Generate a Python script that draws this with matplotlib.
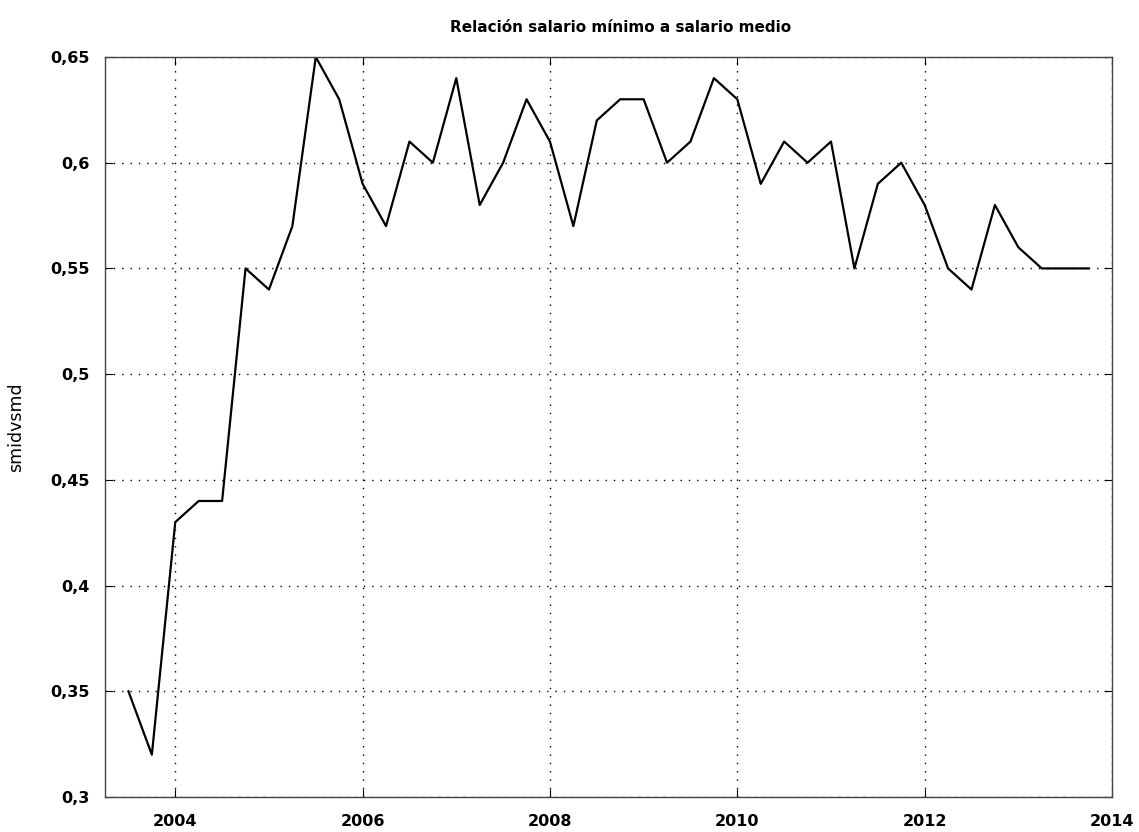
import numpy as np
import matplotlib.pyplot as plt

# trimestres 2003:3 - 2013:4
periodos = np.arange(2003.5, 2014.0, 0.25)
smidvsmd = [0.35, 0.32, 0.43, 0.44, 0.44, 0.55, 0.54, 0.57,
            0.65, 0.63, 0.59, 0.57, 0.61, 0.60, 0.64, 0.58,
            0.60, 0.63, 0.61, 0.57, 0.62, 0.63, 0.63, 0.60,
            0.61, 0.64, 0.63, 0.59, 0.61, 0.60, 0.61, 0.55,
            0.59, 0.60, 0.58, 0.55, 0.54, 0.58, 0.56, 0.55,
            0.55, 0.55]
xticks = [2004, 2006, 2008, 2010, 2012, 2014]
yticks = [0.3, 0.35, 0.4, 0.45, 0.5, 0.55, 0.6, 0.65]

fig = plt.figure(figsize=(11.39, 8.32), dpi=100)
ax = fig.add_axes([0.0922, 0.0421, 0.8841, 0.8894])

ax.plot(periodos, smidvsmd, color='black', lw=1.6)

ax.set_xlim(2003.25, 2014)
ax.set_ylim(0.3, 0.65)
ax.set_xticks(xticks)
ax.set_yticks(yticks)
ax.set_yticklabels([('%g' % v).replace('.', ',') for v in yticks])
ax.set_xticklabels([str(v) for v in xticks])

ax.grid(True, color='black', linestyle=(0, (1, 5)), lw=1.0)
ax.tick_params(direction='in', length=6, top=True, right=True,
               labelsize=11.5)
ax.tick_params(axis='y', pad=11)
ax.tick_params(axis='x', pad=12)
for lab in ax.get_xticklabels() + ax.get_yticklabels():
    lab.set_fontweight('bold')
for s in ax.spines.values():
    s.set_color('#444444')
    s.set_linewidth(1.0)

ax.set_ylabel('smidvsmd', fontsize=12.5, labelpad=18)
fig.text(0.5447, 0.967, 'Relación salario mínimo a salario medio',
         ha='center', va='center', fontsize=11, fontweight='bold')

fig.savefig('out.png', dpi=100)
